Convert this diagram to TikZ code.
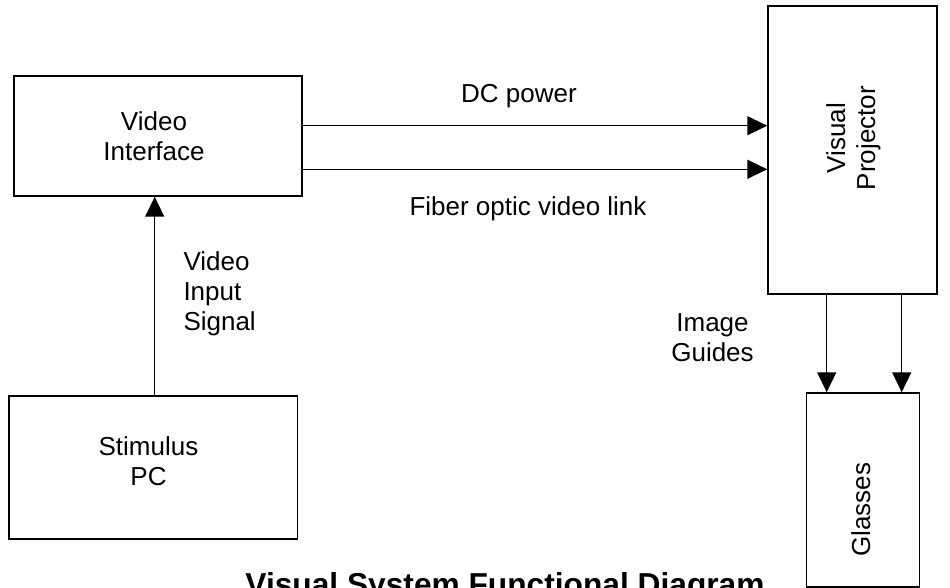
\documentclass[tikz,border=0pt]{standalone}
\usepackage{fontspec}
\setmainfont{Liberation Sans}
\usetikzlibrary{arrows.meta}
\begin{document}
\begin{tikzpicture}[x=1pt,y=-1pt,
  box/.style={draw, line width=1.5pt, inner sep=0pt},
  lbl/.style={inner sep=0pt, font=\fontsize{26}{30}\selectfont, align=center},
  flow/.style={line width=1.5pt, -{Triangle[length=20pt,width=19pt]}}]
\useasboundingbox (0,0) rectangle (950,588);
\clip (0,0) rectangle (950,588);
\fill[white] (0,0) rectangle (950,588);

% blocks
\node[box, minimum width=288pt, minimum height=120pt] (vi) at (158,136) {};
\node[box, minimum width=288.7pt, minimum height=143pt] (spc) at (153.3,467.5) {};
\node[box, minimum width=169pt, minimum height=288pt] (vp) at (852.5,150) {};
\node[box, minimum width=112.6pt, minimum height=194pt] (gl) at (863,490) {};

% block captions
\node[lbl] (vit) at (154,136.2) {Video\\Interface};
\node[lbl] (spct) at (148.5,461.5) {Stimulus\\PC};
\node[lbl, rotate=90] (vpt) at (853.3,138) {Visual\\Projector};
\node[lbl, rotate=90, anchor=base] (glt) at (870,509.7) {Glasses};

% link captions
\node[lbl, anchor=base] (dc) at (519,102.7) {DC power};
\node[lbl, anchor=base] (fo) at (528,215) {Fiber optic video link};
\node[lbl, align=left, anchor=west] (vis) at (183.3,293.3) {Video\\Input\\Signal};
\node[lbl] (ig) at (712.5,337.2) {Image\\Guides};

% title
\node[inner sep=0pt, font=\fontsize{31.7}{36}\selectfont\bfseries, anchor=base] (title) at (505,595.4) {Visual System Functional Diagram};

% connector positions
\coordinate (dcy) at (0,125.7);
\coordinate (foy) at (0,169.3);
\coordinate (vx) at (154.7,0);
\coordinate (ga) at (826.7,0);
\coordinate (gb) at (901.7,0);

% connectors
\draw[flow] (vi.east |- dcy) -- (vp.west |- dcy);
\draw[flow] (vi.east |- foy) -- (vp.west |- foy);
\draw[flow] (spc.north -| vx) -- (vi.south -| vx);
\draw[flow] (vp.south -| ga) -- (gl.north -| ga);
\draw[flow] (vp.south -| gb) -- (gl.north -| gb);
\end{tikzpicture}
\end{document}
